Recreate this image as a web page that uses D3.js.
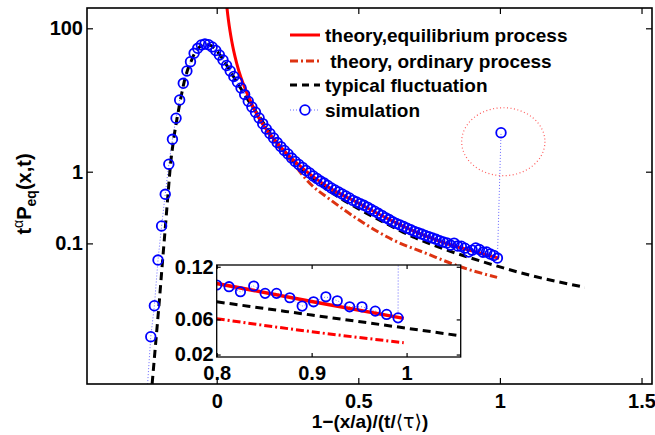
<!DOCTYPE html>
<html>
<head>
<meta charset="utf-8">
<script src="https://cdn.jsdelivr.net/npm/d3@7"></script>
<style>
  body { margin: 0; background: #fff; }
  text { font-family: "Liberation Sans", Arial, Helvetica, sans-serif; font-weight: bold; }
</style>
</head>
<body>
<div id="chart"></div>
<script>
// simulation: x = 1-(x/a)/(t/<tau>), y = t^alpha P_eq(x,t)
const simX = [-0.2455, -0.2328, -0.2201, -0.2073, -0.1946, -0.1818, -0.1691, -0.1563, -0.1436, -0.1308,
  -0.1181, -0.1053, -0.0926, -0.0798, -0.0671, -0.0543, -0.0416, -0.0288, -0.0161, -0.0033,
  0.0094, 0.0222, 0.0349, 0.0477, 0.0604, 0.0732, 0.0859, 0.0987, 0.1114, 0.1242,
  0.1369, 0.1497, 0.1624, 0.1752, 0.1879, 0.2007, 0.2134, 0.2262, 0.2389, 0.2517,
  0.2644, 0.2772, 0.2899, 0.3027, 0.3154, 0.3282, 0.3409, 0.3537, 0.3664, 0.3792,
  0.3919, 0.4047, 0.4174, 0.4302, 0.4429, 0.4557, 0.4684, 0.4812, 0.4939, 0.5067,
  0.5194, 0.5322, 0.5449, 0.5577, 0.5704, 0.5832, 0.5959, 0.6087, 0.6214, 0.6342,
  0.6469, 0.6597, 0.6724, 0.6852, 0.6979, 0.7107, 0.7234, 0.7362, 0.7489, 0.7617,
  0.7744, 0.7872, 0.7999, 0.8127, 0.8254, 0.8382, 0.8509, 0.8637, 0.8764, 0.8892,
  0.9019, 0.9147, 0.9274, 0.9402, 0.9529, 0.9657, 0.9784, 0.9912, 1.0039];
const simY = [0.0009, 0.0050, 0.0135, 0.0586, 0.175, 0.484, 1.27, 2.83, 5.56, 10.0,
  17.1, 25.4, 34.2, 44.8, 52.6, 58.5, 60.4, 59.0, 55.0, 49.0,
  42.5, 36.1, 30.3, 25.4, 21.3, 17.8, 14.7, 11.9, 9.6, 7.98,
  6.75, 5.61, 4.68, 3.94, 3.41, 2.95, 2.55, 2.24, 1.98, 1.77,
  1.55, 1.39, 1.26, 1.15, 1.04, 0.96, 0.871, 0.804, 0.741, 0.695,
  0.642, 0.593, 0.556, 0.521, 0.489, 0.458, 0.430, 0.398, 0.378, 0.358,
  0.340, 0.321, 0.300, 0.281, 0.263, 0.246, 0.229, 0.215, 0.200, 0.190,
  0.181, 0.172, 0.163, 0.155, 0.147, 0.141, 0.135, 0.129, 0.124, 0.119,
  0.114, 0.109, 0.1045, 0.1016, 0.0948, 0.1010, 0.0918, 0.0913, 0.0858, 0.0759,
  0.0806, 0.0864, 0.0821, 0.0754, 0.0758, 0.0711, 0.0679, 0.0625, 3.50];

// theory, equilibrium process
const eqX = [0.031, 0.0335, 0.037, 0.041, 0.047, 0.053, 0.06, 0.0706, 0.085, 0.1, 0.1175,
  0.15, 0.2, 0.25, 0.3, 0.35, 0.4, 0.5, 0.6, 0.7, 0.8, 0.9, 0.997];
const eqY = [316, 246, 181, 134, 91.7, 66.7, 48.5, 32.5, 20.9, 14.5, 10.0,
  5.5, 2.9, 1.75, 1.15, 0.80, 0.59, 0.365, 0.225, 0.146, 0.103, 0.079, 0.062];

// theory, ordinary process
const ordX = [0.12, 0.2, 0.27, 0.33, 0.4, 0.5, 0.62, 0.74, 0.86, 0.99];
const ordY = [9.0, 2.75, 1.3, 0.68, 0.41, 0.215, 0.113, 0.0725, 0.0472, 0.0336];

// typical fluctuation
const typX = [-0.228, -0.2135, -0.204, -0.191, -0.181, -0.172, -0.163, -0.152, -0.140, -0.128,
  -0.116, -0.104, -0.091, -0.078, -0.065, -0.052, -0.04, -0.027, -0.014, 0.0,
  0.02, 0.04, 0.06, 0.08, 0.1, 0.125, 0.15, 0.2, 0.25, 0.3,
  0.4, 0.5, 0.6, 0.7, 0.8, 0.9, 1.0, 1.1, 1.2, 1.3];
const typY = [0.0011, 0.005, 0.0135, 0.0586, 0.175, 0.484, 1.27, 2.83, 5.56, 10.0,
  17.1, 25.4, 34.2, 44.8, 52.6, 58.5, 60.4, 59, 55, 48.5,
  38, 28.5, 21.0, 15.6, 11.6, 8.2, 5.9, 2.95, 1.7, 1.08,
  0.53, 0.305, 0.188, 0.12, 0.084, 0.062, 0.047, 0.0365, 0.0295, 0.0244];

// dotted ellipse round the outlier: [xmin, xmax, ymin, ymax]
const outlierBox = [0.865, 1.159, 0.88, 7.8];

// inset (zoom on 0.8..1)
const insetSimX = [0.800, 0.813, 0.825, 0.839, 0.851, 0.863, 0.877, 0.890,
  0.902, 0.915, 0.927, 0.940, 0.953, 0.967, 0.979, 0.991, 1.003];
const insetSimY = [0.0992, 0.0973, 0.0915, 0.0981, 0.0897, 0.0897, 0.0847, 0.0752,
  0.0801, 0.0858, 0.0813, 0.0744, 0.0744, 0.0695, 0.0657, 0.0618, 3.50];
const insetEqX = [0.8, 0.9, 0.997];
const insetEqY = [0.101, 0.0805, 0.0612];
const insetOrdX = [0.8, 0.9, 0.997];
const insetOrdY = [0.0608, 0.046, 0.0335];
const insetTypX = [0.8, 0.9, 1.0, 1.06];
const insetTypY = [0.0801, 0.0650, 0.0500, 0.0408];

const xTicks = [0, 0.5, 1, 1.5];
const yTicks = [0.1, 1, 100];
const insetXTicks = [0.8, 0.9, 1];
const insetYTicks = [0.02, 0.06, 0.12];

const legendLabels = ["theory,equilibrium process", " theory, ordinary process",
  "typical fluctuation", "simulation"];

// Setup
const width = 655, height = 435;
const svg = d3.select("#chart").append("svg")
    .attr("width", width)
    .attr("height", height);

const plot = {left: 87, right: 652, top: 8, bottom: 384};

const x = d3.scaleLinear().domain([-0.458, 1.537]).range([plot.left, plot.right]);
const y = d3.scaleLog().domain([0.001094, 191.9]).range([plot.bottom, plot.top]);

const colRed = "#ff0000", colOrd = "#dd3311", colBlue = "#0000ff", colDot = "#6a6aff";

svg.append("clipPath").attr("id", "clipMain")
  .append("rect")
    .attr("x", plot.left).attr("y", plot.top)
    .attr("width", plot.right - plot.left).attr("height", plot.bottom - plot.top);

const g = svg.append("g").attr("clip-path", "url(#clipMain)");

const line = (xs, ys, sx, sy) => d3.line()
    .x(i => sx(xs[i]))
    .y(i => sy(ys[i]))
    .curve(d3.curveMonotoneX)(d3.range(xs.length));

const straight = (xs, ys, sx, sy) => d3.line()
    .x(i => sx(xs[i]))
    .y(i => sy(ys[i]))(d3.range(xs.length));

// simulation connecting dotted line
g.append("path")
    .attr("d", straight(simX, simY, x, y))
    .attr("fill", "none")
    .attr("stroke", colDot)
    .attr("stroke-width", 1)
    .attr("stroke-dasharray", "1,2");

// typical fluctuation
g.append("path")
    .attr("d", line(typX, typY, x, y))
    .attr("fill", "none")
    .attr("stroke", "#000")
    .attr("stroke-width", 3)
    .attr("stroke-dasharray", "8,5");

// ordinary process
g.append("path")
    .attr("d", line(ordX, ordY, x, y))
    .attr("fill", "none")
    .attr("stroke", colOrd)
    .attr("stroke-width", 3)
    .attr("stroke-dasharray", "8,3,2,3");

// equilibrium process
g.append("path")
    .attr("d", line(eqX, eqY, x, y))
    .attr("fill", "none")
    .attr("stroke", colRed)
    .attr("stroke-width", 3);

// simulation circles
g.selectAll(".sim")
  .data(d3.range(simX.length))
  .enter().append("circle")
    .attr("class", "sim")
    .attr("cx", i => x(simX[i]))
    .attr("cy", i => y(simY[i]))
    .attr("r", 4.8)
    .attr("fill", "none")
    .attr("stroke", colBlue)
    .attr("stroke-width", 1.8);

// dotted ellipse round the outlier
svg.append("ellipse")
    .attr("cx", (x(outlierBox[0]) + x(outlierBox[1])) / 2)
    .attr("cy", (y(outlierBox[2]) + y(outlierBox[3])) / 2)
    .attr("rx", (x(outlierBox[1]) - x(outlierBox[0])) / 2)
    .attr("ry", (y(outlierBox[2]) - y(outlierBox[3])) / 2)
    .attr("fill", "none")
    .attr("stroke", "#ff5a5a")
    .attr("stroke-width", 1.2)
    .attr("stroke-dasharray", "1,2.5");

// main axes
const tick = 6;
function styleAxis(sel, fontSize) {
  sel.select(".domain").remove();
  sel.selectAll("line").attr("stroke", "#000").attr("stroke-width", 1.2);
  sel.selectAll("text").attr("fill", "#000").style("font-size", fontSize + "px");
}
svg.append("g")
    .attr("transform", `translate(0,${plot.bottom})`)
    .call(d3.axisBottom(x).tickValues(xTicks).tickSize(-tick).tickPadding(10).tickFormat(d3.format("")))
    .call(s => styleAxis(s, 20));
svg.append("g")
    .attr("transform", `translate(0,${plot.top})`)
    .call(d3.axisTop(x).tickValues(xTicks).tickSize(-tick).tickFormat(""))
    .call(s => styleAxis(s, 20));
svg.append("g")
    .attr("transform", `translate(${plot.left},0)`)
    .call(d3.axisLeft(y).tickValues(yTicks).tickSize(-tick).tickPadding(4).tickFormat(d3.format("")))
    .call(s => styleAxis(s, 20));
svg.append("g")
    .attr("transform", `translate(${plot.right},0)`)
    .call(d3.axisRight(y).tickValues(yTicks).tickSize(-tick).tickFormat(""))
    .call(s => styleAxis(s, 20));

svg.append("rect")
    .attr("x", plot.left).attr("y", plot.top)
    .attr("width", plot.right - plot.left).attr("height", plot.bottom - plot.top)
    .attr("fill", "none")
    .attr("stroke", "#000")
    .attr("stroke-width", 1.6);

// axis labels
const xlab = svg.append("text")
    .attr("x", 370).attr("y", 428)
    .attr("text-anchor", "middle")
    .style("font-size", "19px");
xlab.append("tspan").text("1\u2212(x/a)/(t/");
xlab.append("tspan").style("font-family", "'DejaVu Sans'").style("font-weight", "normal")
    .text("\u27E8\u03C4\u27E9");
xlab.append("tspan").text(")");

const ylab = svg.append("text")
    .attr("transform", "translate(31,194) rotate(-90)")
    .attr("text-anchor", "middle")
    .style("font-size", "20px");
ylab.append("tspan").text("t");
ylab.append("tspan").attr("dy", -8).style("font-size", "14px").style("font-weight", "normal").text("\u03B1");
ylab.append("tspan").attr("dy", 8).text("P");
ylab.append("tspan").attr("dy", 5).style("font-size", "14px").text("eq");
ylab.append("tspan").attr("dy", -5).text("(x,t)");

// legend
const legendY = [35, 61, 85, 110];
const legX0 = 290, legX1 = 320;
const leg = svg.append("g");
leg.append("line").attr("x1", legX0).attr("x2", legX1).attr("y1", legendY[0]).attr("y2", legendY[0])
    .attr("stroke", colRed).attr("stroke-width", 3);
leg.append("line").attr("x1", legX0).attr("x2", legX1).attr("y1", legendY[1]).attr("y2", legendY[1])
    .attr("stroke", colOrd).attr("stroke-width", 3).attr("stroke-dasharray", "8,3,2,3");
leg.append("line").attr("x1", legX0).attr("x2", legX1).attr("y1", legendY[2]).attr("y2", legendY[2])
    .attr("stroke", "#000").attr("stroke-width", 3).attr("stroke-dasharray", "7,5");
leg.append("line").attr("x1", legX0).attr("x2", legX1).attr("y1", legendY[3]).attr("y2", legendY[3])
    .attr("stroke", colDot).attr("stroke-width", 1).attr("stroke-dasharray", "1,2");
leg.append("circle").attr("cx", (legX0 + legX1) / 2).attr("cy", legendY[3]).attr("r", 4.8)
    .attr("fill", "#fff").attr("stroke", colBlue).attr("stroke-width", 1.8);
leg.selectAll(".legtext")
  .data(legendLabels)
  .enter().append("text")
    .attr("class", "legtext")
    .attr("x", 325)
    .attr("y", (d, i) => legendY[i] + 6.5)
    .style("font-size", "19px")
    .style("white-space", "pre")
    .text(d => d);

// inset
const ins = {left: 216.7, right: 460.7, top: 265, bottom: 357};
const xi = d3.scaleLinear().domain([0.8, 1.057]).range([ins.left, ins.right]);
const yi = d3.scaleLinear().domain([0.0172, 0.122]).range([ins.bottom, ins.top]);

svg.append("rect")
    .attr("x", ins.left).attr("y", ins.top)
    .attr("width", ins.right - ins.left).attr("height", ins.bottom - ins.top)
    .attr("fill", "#fff");

svg.append("clipPath").attr("id", "clipInset")
  .append("rect")
    .attr("x", ins.left).attr("y", ins.top)
    .attr("width", ins.right - ins.left).attr("height", ins.bottom - ins.top);

const gi = svg.append("g").attr("clip-path", "url(#clipInset)");

gi.append("path")
    .attr("d", straight(insetSimX, insetSimY, xi, yi))
    .attr("fill", "none")
    .attr("stroke", colDot)
    .attr("stroke-width", 1)
    .attr("stroke-dasharray", "1,2");
gi.append("path")
    .attr("d", line(insetTypX, insetTypY, xi, yi))
    .attr("fill", "none")
    .attr("stroke", "#000")
    .attr("stroke-width", 3)
    .attr("stroke-dasharray", "8,5");
gi.append("path")
    .attr("d", line(insetOrdX, insetOrdY, xi, yi))
    .attr("fill", "none")
    .attr("stroke", colRed)
    .attr("stroke-width", 3)
    .attr("stroke-dasharray", "8,3,2,3");
gi.append("path")
    .attr("d", line(insetEqX, insetEqY, xi, yi))
    .attr("fill", "none")
    .attr("stroke", colRed)
    .attr("stroke-width", 3.5);
gi.selectAll(".isim")
  .data(d3.range(insetSimX.length))
  .enter().append("circle")
    .attr("class", "isim")
    .attr("cx", i => xi(insetSimX[i]))
    .attr("cy", i => yi(insetSimY[i]))
    .attr("r", 4.7)
    .attr("fill", "none")
    .attr("stroke", colBlue)
    .attr("stroke-width", 1.8);

const itick = 4;
svg.append("g")
    .attr("transform", `translate(0,${ins.bottom})`)
    .call(d3.axisBottom(xi).tickValues(insetXTicks).tickSize(-itick).tickPadding(9).tickFormat(d3.format("")))
    .call(s => styleAxis(s, 20));
svg.append("g")
    .attr("transform", `translate(0,${ins.top})`)
    .call(d3.axisTop(xi).tickValues(insetXTicks).tickSize(-itick).tickFormat(""))
    .call(s => styleAxis(s, 20));
svg.append("g")
    .attr("transform", `translate(${ins.left},0)`)
    .call(d3.axisLeft(yi).tickValues(insetYTicks).tickSize(-itick).tickPadding(3).tickFormat(d3.format("")))
    .call(s => styleAxis(s, 20));
svg.append("g")
    .attr("transform", `translate(${ins.right},0)`)
    .call(d3.axisRight(yi).tickValues(insetYTicks).tickSize(-itick).tickFormat(""))
    .call(s => styleAxis(s, 20));

svg.append("rect")
    .attr("x", ins.left).attr("y", ins.top)
    .attr("width", ins.right - ins.left).attr("height", ins.bottom - ins.top)
    .attr("fill", "none")
    .attr("stroke", "#000")
    .attr("stroke-width", 1.3);
</script>
</body>
</html>
